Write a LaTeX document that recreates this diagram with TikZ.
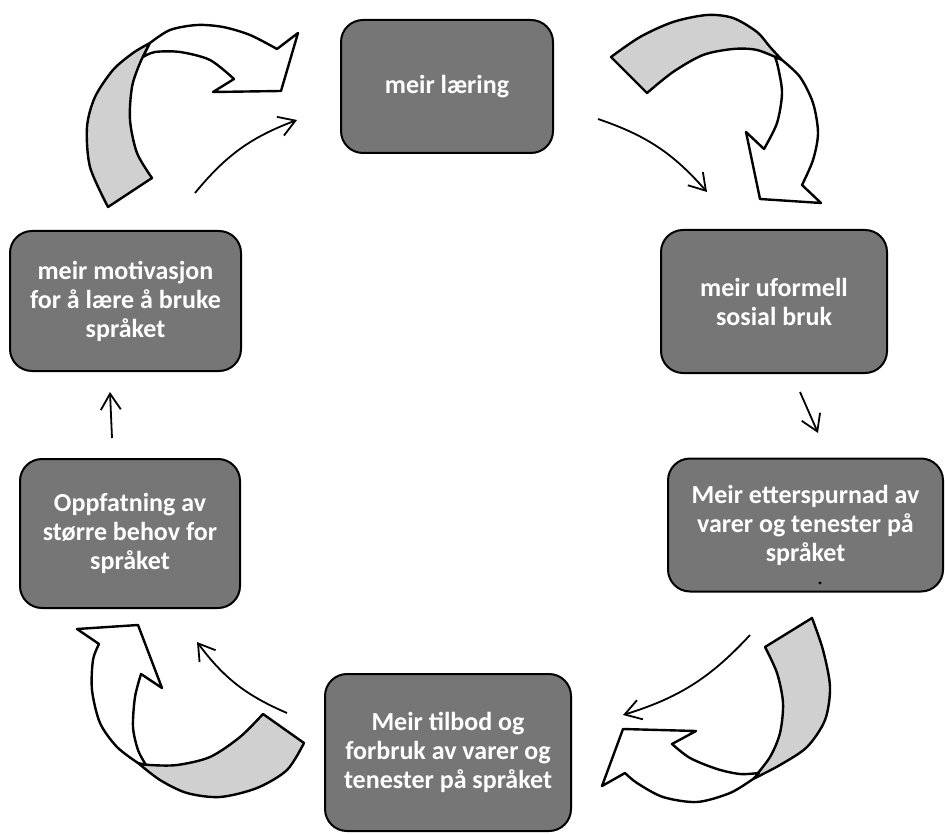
\documentclass[tikz,border=0pt]{standalone}
\usepackage{fontspec}
\setmainfont{Carlito}
\usetikzlibrary{arrows.meta}
\definecolor{boxgrey}{RGB}{118,118,118}
\definecolor{ribbongrey}{RGB}{208,208,208}
\tikzset{
  box/.style={draw=black, line width=1pt, fill=boxgrey, rounded corners=11pt,
    inner sep=0pt, align=center, text=white,
    font=\fontsize{13}{14.5}\selectfont\bfseries},
  thin/.style={line width=0.9pt, -{Straight Barb[length=8pt,width=10pt]}},
  ribbon/.style={draw=black, line width=1.2pt, line join=round, fill=ribbongrey},
  ribbonw/.style={draw=black, line width=1.2pt, line join=round, fill=white},
}
\begin{document}
\begin{tikzpicture}[x=0.5pt,y=-0.5pt]
\useasboundingbox (0,0) rectangle (945,833);

% boxes
\node[box, minimum width=106pt, minimum height=66.5pt] (L) at (447,86.5) {meir læring};
\node[box, minimum width=113pt, minimum height=71.5pt] (U) at (774,301.5) {meir uformell\\sosial bruk};
\node[box, minimum width=137.5pt, minimum height=66.5pt] (E) at (805.5,525) {Meir etterspurnad av\\varer og tenester på\\språket};
\node[box, minimum width=123pt, minimum height=78.5pt] (T) at (448,752.5) {Meir tilbod og\\forbruk av varer og\\tenester på språket};
\node[box, minimum width=115.5pt, minimum height=70pt] (M) at (125.5,301) {meir motivasjon\\for å lære å bruke\\språket};
\node[box, minimum width=110pt, minimum height=74.5pt] (O) at (130,533.5) {Oppfatning av\\større behov for\\språket};
\fill (820,583) circle (1.6);

% thin arrows
\coordinate (a1s) at (195,193); \coordinate (a1e) at (297,120);
\coordinate (a2s) at (598,119); \coordinate (a2e) at (707,192);
\coordinate (a3s) at (800,392); \coordinate (a3e) at (818,433);
\coordinate (a4s) at (750,635); \coordinate (a4e) at (623,715);
\coordinate (a5s) at (287,713); \coordinate (a5e) at (197,642);
\coordinate (a6s) at (112,438); \coordinate (a6e) at (110,392);
\draw[thin] (a1s) to[bend left=15] (a1e);
\draw[thin] (a2s) to[bend left=15] (a2e);
\draw[thin] (a3s) -- (a3e);
\draw[thin] (a4s) to[bend left=15] (a4e);
\draw[thin] (a5s) to[bend left=15] (a5e);
\draw[thin] (a6s) -- (a6e);

% block arrow 1 (top left)
\path[ribbon] plot[smooth] coordinates {(108,207) (90,167) (87,127) (95,97) (113,70) (133,53) (150,43)}
  -- plot[smooth] coordinates {(150,43) (140,63) (132,87) (130,120) (137,153) (152,178)} -- cycle;
\path[ribbonw] plot[smooth] coordinates {(150,43) (170,30) (197,25) (223,27) (250,35) (277,49)}
  -- (298,33) -- (281,91) -- (213,92) -- (234,79)
  -- plot[smooth] coordinates {(234,79) (210,60) (180,52) (155,52) (143,57)} -- cycle;

% block arrow 2 (top right)
\path[ribbon] plot[smooth] coordinates {(611,57) (640,37) (673,22) (707,15) (733,18) (757,32) (770,47) (782,60)}
  -- plot[smooth] coordinates {(782,60) (757,50) (733,49) (703,55) (673,72) (647,93)} -- cycle;
\path[ribbonw] plot[smooth] coordinates {(782,60) (800,77) (813,103) (818,133) (813,160) (802,185)}
  -- (821,203) -- (760,199) -- (746,132) -- (764,149)
  -- plot[smooth] coordinates {(764,149) (777,123) (782,93) (778,67) (775,57)} -- cycle;

% block arrow 3 (bottom right)
\path[ribbon] plot[smooth] coordinates {(812,618) (823,650) (830,687) (825,720) (807,747) (780,765) (753,779)}
  -- plot[smooth] coordinates {(753,779) (770,757) (780,733) (783,703) (777,673) (765,647)} -- cycle;
\path[ribbonw] plot[smooth] coordinates {(753,779) (730,793) (697,802) (663,797) (637,783) (625,773)}
  -- (602,786) -- (623,729) -- (696,731) -- (672,744)
  -- plot[smooth] coordinates {(672,744) (690,758) (717,769) (740,774) (759,773)} -- cycle;

% block arrow 4 (bottom left)
\path[ribbon] plot[smooth] coordinates {(263,714) (240,737) (210,757) (177,765) (150,765) (138,763)}
  -- plot[smooth] coordinates {(138,763) (160,780) (187,793) (220,797) (257,788) (287,770) (304,743)} -- cycle;
\path[ribbonw] plot[smooth] coordinates {(138,763) (117,747) (100,723) (92,690) (93,660) (99,644)}
  -- (77,629) -- (138,625) -- (162,688) -- (141,674)
  -- plot[smooth] coordinates {(141,674) (135,697) (133,727) (138,750) (146,765)} -- cycle;
\end{tikzpicture}
\end{document}
